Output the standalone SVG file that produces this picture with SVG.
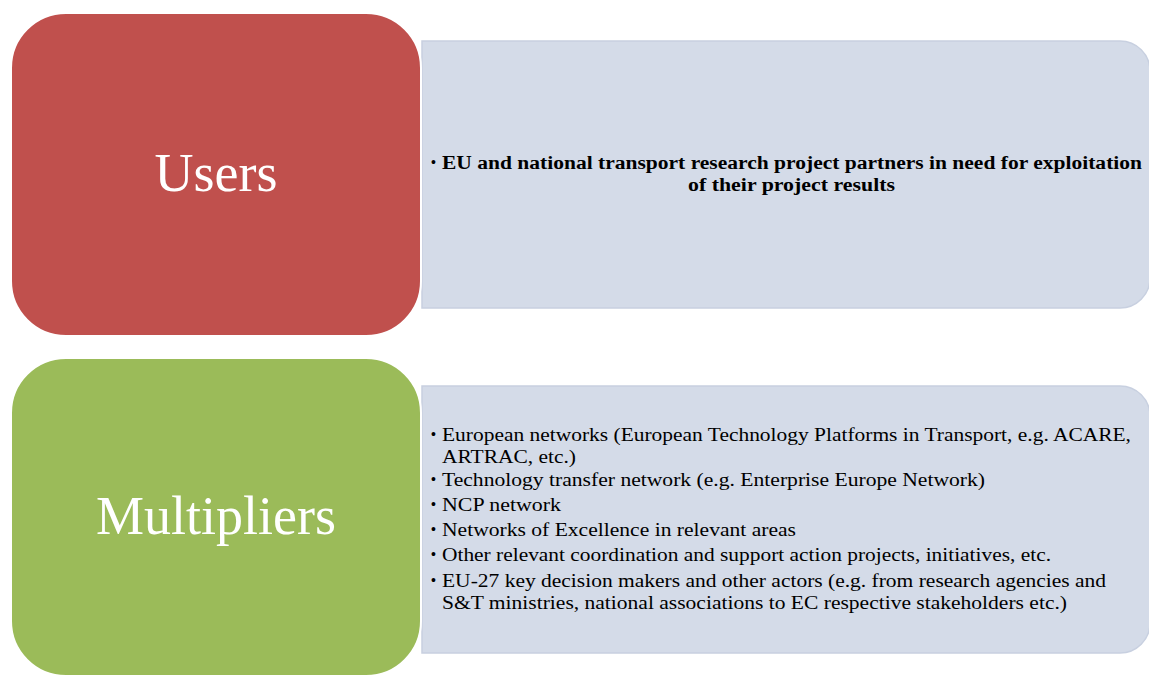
<svg xmlns="http://www.w3.org/2000/svg" width="1149" height="675" viewBox="0 0 1149 675">
  <style>
    .head { fill: #C0504D; stroke: #FFFFFF; stroke-width: 2; }
    .head.green { fill: #9BBB59; }
    .panel { fill: #D4DBE8; stroke: #C8D0E0; stroke-width: 1.5; }
    .title { font-family: "Liberation Serif", "Times New Roman", serif; font-size: 54px; fill: #FFFFFF; text-anchor: middle; }
    .item { font-family: "Liberation Serif", "Times New Roman", serif; font-size: 18px; fill: #000000; }
    .bold { font-weight: bold; font-size: 18px; }
    .dot { font-family: "Liberation Sans", Arial, sans-serif; font-size: 14px; fill: #000000; }
  </style>

  <!-- Users row -->
  <g id="users-panel">
    <path class="panel" d="M422,41 H1120 A30,30 0 0 1 1150,71 V278 A30,30 0 0 1 1120,308 H422 Z"/>
    <text class="dot" x="431" y="167">•</text>
    <text class="item bold" x="442" y="169" textLength="700" lengthAdjust="spacingAndGlyphs">EU and national transport research project partners in need for exploitation</text>
    <text class="item bold" x="688" y="191" textLength="207" lengthAdjust="spacingAndGlyphs">of their project results</text>
  </g>
  <g id="users">
    <rect class="head" x="11" y="13" width="410" height="323" rx="55" ry="55"/>
    <text class="title" x="216" y="191">Users</text>
  </g>

  <!-- Multipliers row -->
  <g id="multipliers-panel">
    <path class="panel" d="M422,386 H1120 A30,30 0 0 1 1150,416 V623 A30,30 0 0 1 1120,653 H422 Z"/>
    <g class="dot">
      <text x="431" y="439">•</text>
      <text x="431" y="484">•</text>
      <text x="431" y="509">•</text>
      <text x="431" y="534">•</text>
      <text x="431" y="559">•</text>
      <text x="431" y="585">•</text>
    </g>
    <g class="item">
      <text x="442" y="441" textLength="689" lengthAdjust="spacingAndGlyphs">European networks (European Technology Platforms in Transport, e.g. ACARE,</text>
      <text x="442" y="463" textLength="134" lengthAdjust="spacingAndGlyphs">ARTRAC, etc.)</text>
      <text x="442" y="486" textLength="543" lengthAdjust="spacingAndGlyphs">Technology transfer network (e.g. Enterprise Europe Network)</text>
      <text x="442" y="511" textLength="119" lengthAdjust="spacingAndGlyphs">NCP network</text>
      <text x="442" y="536" textLength="354" lengthAdjust="spacingAndGlyphs">Networks of Excellence in relevant areas</text>
      <text x="442" y="561" textLength="609" lengthAdjust="spacingAndGlyphs">Other relevant coordination and support action projects, initiatives, etc.</text>
      <text x="442" y="587" textLength="664" lengthAdjust="spacingAndGlyphs">EU-27 key decision makers and other actors (e.g. from research agencies and</text>
      <text x="442" y="609" textLength="625" lengthAdjust="spacingAndGlyphs">S&amp;T ministries, national associations to EC respective stakeholders etc.)</text>
    </g>
  </g>
  <g id="multipliers">
    <rect class="head green" x="11" y="358" width="410" height="318" rx="55" ry="55"/>
    <text class="title" x="216" y="534">Multipliers</text>
  </g>

  <!-- no connectors in this layout -->
  <g id="connectors"/>
</svg>
